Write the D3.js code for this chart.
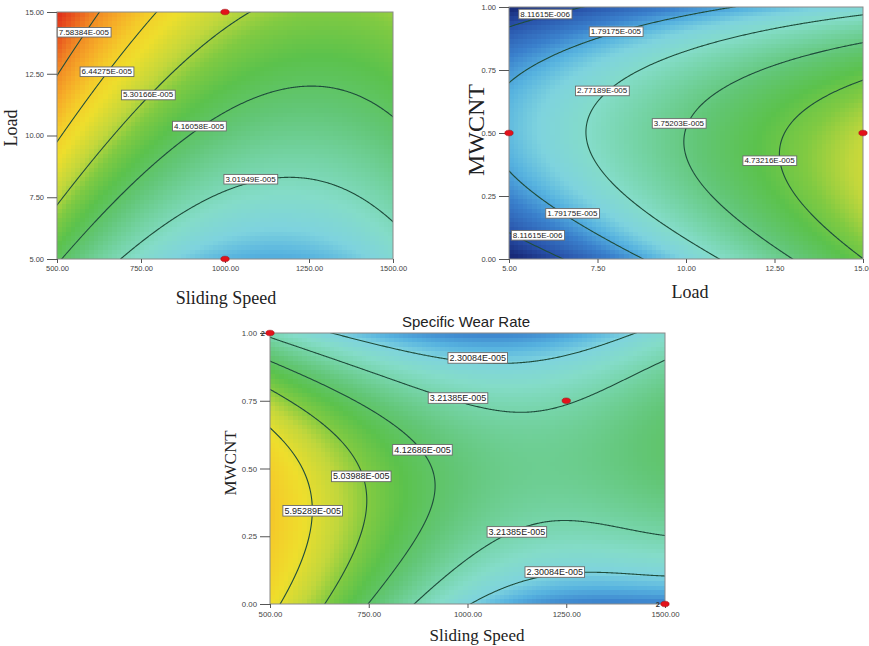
<!DOCTYPE html>
<html>
<head>
<meta charset="utf-8">
<script src="https://cdnjs.cloudflare.com/ajax/libs/d3/7.8.5/d3.min.js"></script>
<style>
  body { margin: 0; background: #fff; }
  svg { display: block; }
</style>
</head>
<body>
<svg id="chart" width="869" height="646"></svg>
<script>
// contour levels, in units of 1E-005
var levelsSpeedLoad = [3.01949, 4.16058, 5.30166, 6.44275, 7.58384];
var levelsLoadMwcnt = [0.811615, 1.79175, 2.77189, 3.75203, 4.73216];
var levelsSpeedMwcnt = [2.30084, 3.21385, 4.12686, 5.03988, 5.95289];

// readings of the response surface off the picture: [x, y, wear rate]
var readSpeedLoad = [
  [693, 5, 3.01949], [826, 6.58, 3.01949], [1076, 8.23, 3.01949], [1247, 8.29, 3.01949], [1500, 6.51, 3.01949],
  [514, 5, 4.16058], [718, 7.68, 4.16058], [923, 10.38, 4.16058], [1247, 11.95, 4.16058], [1500, 10.7, 4.16058],
  [500, 7.26, 5.30166], [771, 11.64, 5.30166], [1079, 15, 5.30166],
  [500, 9.71, 6.44275], [648, 12.58, 6.44275], [801, 15, 6.44275],
  [500, 12.32, 7.58384], [580, 14.18, 7.58384], [628, 15, 7.58384],
  [500, 15, 8.65], [1500, 15, 5.15], [1250, 15, 5.02], [500, 5, 4.25],
  [1000, 5, 1.95], [1150, 5, 1.85], [1500, 5, 2.55], [1250, 10, 3.6]
];
var readLoadMwcnt = [
  [5, 0.91, 0.811615], [6.85, 1, 0.811615], [5, 0.10, 0.811615], [6.91, 0, 0.811615],
  [5, 0.687, 1.79175], [8.02, 0.902, 1.79175], [11.6, 1, 1.79175],
  [5, 0.36, 1.79175], [6.79, 0.181, 1.79175], [8.84, 0, 1.79175],
  [7.03, 0.499, 2.77189], [7.63, 0.667, 2.77189], [9.27, 0.777, 2.77189], [12.1, 0.90, 2.77189],
  [15, 0.964, 2.77189], [9.27, 0.127, 2.77189], [10.82, 0, 2.77189],
  [9.69, 0.49, 3.75203], [11.62, 0.723, 3.75203], [15, 0.849, 3.75203], [11.15, 0.21, 3.75203], [12.9, 0, 3.75203],
  [12.35, 0.45, 4.73216], [13.5, 0.604, 4.73216], [15, 0.704, 4.73216], [13.79, 0.21, 4.73216], [15, 0, 4.73216],
  [15, 0.35, 5.7], [15, 1, 2.6], [5, 0, 0.3], [5, 1, 0.3], [5, 0.52, 2.0], [10, 1, 1.45]
];
var readSpeedMwcnt = [
  [500, 0.649, 5.95289], [545, 0.57, 5.95289], [604, 0.42, 5.95289], [608, 0.34, 5.95289], [598, 0.26, 5.95289],
  [572, 0.15, 5.95289], [528, 0, 5.95289],
  [500, 0.785, 5.03988], [600, 0.72, 5.03988], [686, 0.606, 5.03988], [728, 0.46, 5.03988], [740, 0.36, 5.03988],
  [730, 0.27, 5.03988], [700, 0.15, 5.03988], [675, 0.08, 5.03988], [630, 0, 5.03988],
  [500, 0.895, 4.12686], [846, 0.606, 4.12686], [884, 0.57, 4.12686], [922, 0.42, 4.12686],
  [880, 0.237, 4.12686], [829, 0.163, 4.12686], [770, 0, 4.12686],
  [500, 0.987, 3.21385], [896, 0.785, 3.21385], [1082, 0.717, 3.21385], [1166, 0.706, 3.21385], [1500, 0.90, 3.21385],
  [846, 0, 3.21385], [985, 0.15, 3.21385], [1125, 0.268, 3.21385], [1302, 0.305, 3.21385], [1500, 0.252, 3.21385],
  [648, 1, 2.30084], [947, 0.90, 2.30084], [1100, 0.889, 2.30084], [1428, 1, 2.30084],
  [1010, 0, 2.30084], [1285, 0.12, 2.30084], [1500, 0.104, 2.30084],
  [500, 0.32, 6.75], [1500, 0, 1.45], [1500, 1, 2.6], [1500, 0.55, 4.05], [1000, 1, 1.5], [1250, 0, 1.5]
];

// where the level labels sit: [x, y, level]
var labelsSpeedLoad = [
  [1076, 8.23, 3.01949], [923, 10.38, 4.16058], [771, 11.64, 5.30166], [648, 12.58, 6.44275], [580, 14.18, 7.58384]
];
var labelsLoadMwcnt = [
  [6.02, 0.972, 0.811615], [8.02, 0.902, 1.79175], [7.63, 0.667, 2.77189], [9.80, 0.538, 3.75203],
  [12.36, 0.39, 4.73216], [6.79, 0.181, 1.79175], [5.81, 0.094, 0.811615]
];
var labelsSpeedMwcnt = [
  [1026, 0.908, 2.30084], [976, 0.760, 3.21385], [886, 0.569, 4.12686], [731, 0.471, 5.03988],
  [608, 0.344, 5.95289], [1125, 0.266, 3.21385], [1221, 0.118, 2.30084]
];

// design points [x, y, replicates]
var designSpeedLoad = [[1000, 15, 1], [1000, 5, 1]];
var designLoadMwcnt = [[5, 0.5, 1], [15, 0.5, 1]];
var designSpeedMwcnt = [[500, 1, 2], [1250, 0.75, 1], [1500, 0, 2]];

var speedTicks = [500, 750, 1000, 1250, 1500];
var loadTicks = [5, 7.5, 10, 12.5, 15];
var mwcntTicks = [0, 0.25, 0.5, 0.75, 1];

// colour ramp (value -> colour)
var rampStops = [0.3, 0.8, 1.45, 1.9, 2.3, 2.8, 3.3, 3.9, 4.5, 5.0, 5.5, 6.1, 6.6, 7.1, 7.7, 8.2, 8.6];
var rampColors = ["#182a78", "#2850a8", "#3a80cc", "#56b2df", "#7ed3de", "#84dcc8", "#74d3a4", "#62c676",
                  "#5bc24c", "#80ca42", "#c2d73c", "#eede2c", "#f4cc2a", "#f6ac28", "#f08424", "#e8521e", "#e0301a"];
var color = d3.scaleLinear().domain(rampStops).range(rampColors).interpolate(d3.interpolateRgb).clamp(true);

var svg = d3.select("#chart");
var sans = "Liberation Sans, Arial, sans-serif";
var serif = "Liberation Serif, Times New Roman, serif";

function fmtLevel(v) {
  var e = Math.floor(Math.log10(v * 1e-5) + 1e-9);
  var m = v * 1e-5 / Math.pow(10, e);
  return m.toFixed(5) + "E-" + String(-e).padStart(3, "0");
}

// polynomial least squares surface through the readings
function basis(u, v, deg) {
  var f = [];
  for (var d = 0; d <= deg; d++)
    for (var j = 0; j <= d; j++) f.push(Math.pow(u, d - j) * Math.pow(v, j));
  return f;
}
function fitSurface(pts, xd, yd, deg, edgeWeight) {
  var cu = d3.scaleLinear().domain(xd).range([-1, 1]);
  var cv = d3.scaleLinear().domain(yd).range([-1, 1]);
  var n = basis(0, 0, deg).length, A = [], b = [];
  for (var i = 0; i < n; i++) { A.push(new Array(n).fill(0)); b.push(0); }
  pts.forEach(function(p) {
    var f = basis(cu(p[0]), cv(p[1]), deg);
    // readings on the bottom edge are the sharpest ones
    var w = p[1] === yd[0] ? edgeWeight : 1;
    for (var i = 0; i < n; i++) {
      for (var j = 0; j < n; j++) A[i][j] += w * f[i] * f[j];
      b[i] += w * f[i] * p[2];
    }
  });
  for (var i = 0; i < n; i++) A[i][i] += 1e-3;
  // gaussian elimination
  for (var k = 0; k < n; k++) {
    var piv = k;
    for (var r = k + 1; r < n; r++) if (Math.abs(A[r][k]) > Math.abs(A[piv][k])) piv = r;
    var t = A[k]; A[k] = A[piv]; A[piv] = t;
    var tb = b[k]; b[k] = b[piv]; b[piv] = tb;
    for (var r = k + 1; r < n; r++) {
      var m = A[r][k] / A[k][k];
      for (var c = k; c < n; c++) A[r][c] -= m * A[k][c];
      b[r] -= m * b[k];
    }
  }
  var coef = new Array(n).fill(0);
  for (var k = n - 1; k >= 0; k--) {
    var s = b[k];
    for (var c = k + 1; c < n; c++) s -= A[k][c] * coef[c];
    coef[k] = s / A[k][k];
  }
  return function(x, y) {
    var f = basis(cu(x), cv(y), deg), s = 0;
    for (var i = 0; i < n; i++) s += f[i] * coef[i];
    return s;
  };
}

function drawPanel(cfg, id) {
  var left = cfg.box[0], top = cfg.box[1], right = cfg.box[2], bottom = cfg.box[3];
  var x = d3.scaleLinear().domain(cfg.xDomain).range([left, right]);
  var y = d3.scaleLinear().domain(cfg.yDomain).range([bottom, top]);
  var surf = fitSurface(cfg.readings, cfg.xDomain, cfg.yDomain, cfg.degree, cfg.edgeWeight);
  var g = svg.append("g");

  // blocky heat map
  var nx = Math.round((right - left) / 4.6), ny = Math.round((bottom - top) / 4.6);
  var canvas = document.createElement("canvas");
  canvas.width = nx; canvas.height = ny;
  var ctx = canvas.getContext("2d");
  var img = ctx.createImageData(nx, ny);
  for (var j = 0; j < ny; j++) {
    for (var i = 0; i < nx; i++) {
      var px = left + (i + 0.5) * (right - left) / nx;
      var py = top + (j + 0.5) * (bottom - top) / ny;
      var c = d3.rgb(color(surf(x.invert(px), y.invert(py))));
      var k = (j * nx + i) * 4;
      img.data[k] = c.r; img.data[k + 1] = c.g; img.data[k + 2] = c.b; img.data[k + 3] = 255;
    }
  }
  ctx.putImageData(img, 0, 0);
  g.append("image")
    .attr("href", canvas.toDataURL())
    .attr("x", left).attr("y", top)
    .attr("width", right - left).attr("height", bottom - top)
    .attr("preserveAspectRatio", "none")
    .style("image-rendering", "pixelated");

  // contour lines on a finer, padded grid so the border edges fall outside the clip
  var pad = 3, N = Math.round(right - left), M = Math.round(bottom - top);
  var csx = (right - left) / N, csy = (bottom - top) / M;
  var gw = N + 2 * pad, gh = M + 2 * pad;
  var values = new Float64Array(gw * gh);
  for (var j = 0; j < gh; j++) {
    for (var i = 0; i < gw; i++) {
      var px = left + (i - pad + 0.5) * csx;
      var py = top + (j - pad + 0.5) * csy;
      values[j * gw + i] = surf(x.invert(px), y.invert(py));
    }
  }
  var contours = d3.contours().size([gw, gh]).thresholds(cfg.levels)(values);
  var proj = d3.geoTransform({
    point: function(px, py) { this.stream.point(left + (px - pad) * csx, top + (py - pad) * csy); }
  });
  svg.append("clipPath").attr("id", "clip" + id)
    .append("rect").attr("x", left).attr("y", top).attr("width", right - left).attr("height", bottom - top);
  g.append("g").attr("clip-path", "url(#clip" + id + ")")
    .selectAll("path").data(contours).enter().append("path")
    .attr("d", d3.geoPath(proj))
    .attr("fill", "none")
    .attr("stroke", "#1f4d3c")
    .attr("stroke-width", 1.1);

  // frame
  g.append("rect").attr("x", left).attr("y", top).attr("width", right - left).attr("height", bottom - top)
    .attr("fill", "none").attr("stroke", "#8a8a8a").attr("stroke-width", 1);

  // level labels
  cfg.labels.forEach(function(l) {
    var lg = g.append("g");
    var t = lg.append("text")
      .attr("x", x(l[0])).attr("y", y(l[1]))
      .attr("text-anchor", "middle").attr("dominant-baseline", "central")
      .attr("font-family", sans).attr("font-size", cfg.labelSize).attr("fill", "#222")
      .text(fmtLevel(l[2]));
    var bb = t.node().getBBox();
    lg.insert("rect", "text")
      .attr("x", bb.x - 1.5).attr("y", bb.y - 0.3).attr("width", bb.width + 3).attr("height", bb.height + 0.6)
      .attr("fill", "#fff").attr("stroke", "#6a6a6a").attr("stroke-width", 0.9);
  });

  // axes
  var ax = g.append("g").attr("transform", "translate(0," + bottom + ")")
    .call(d3.axisBottom(x).tickValues(cfg.xTicks).tickFormat(d3.format(".2f")).tickSize(4).tickPadding(3));
  var ay = g.append("g").attr("transform", "translate(" + left + ",0)")
    .call(d3.axisLeft(y).tickValues(cfg.yTicks).tickFormat(d3.format(".2f")).tickSize(10).tickPadding(3));
  [ax, ay].forEach(function(a) {
    a.select(".domain").remove();
    a.attr("font-family", sans).attr("font-size", cfg.tickSize);
    a.selectAll("line").attr("stroke", "#555");
    a.selectAll("text").attr("fill", "#444");
  });

  // design points
  cfg.design.forEach(function(d) {
    g.append("ellipse").attr("cx", x(d[0])).attr("cy", y(d[1])).attr("rx", 4.2).attr("ry", 2.8)
      .attr("fill", "#e3121b").attr("stroke", "#9a0a10").attr("stroke-width", 0.5);
    if (d[2] > 1) {
      g.append("text").attr("x", x(d[0]) - 5).attr("y", y(d[1]) + 2.5)
        .attr("text-anchor", "end").attr("font-family", sans).attr("font-size", 7.5)
        .attr("font-weight", "bold").attr("fill", "#333").text(d[2]);
    }
  });

  // titles
  g.append("text").attr("x", cfg.xTitle[1]).attr("y", cfg.xTitle[2])
    .attr("text-anchor", "middle").attr("font-family", serif).attr("font-size", cfg.xTitle[3])
    .attr("fill", "#222").text(cfg.xTitle[0]);
  g.append("text").attr("transform", "translate(" + cfg.yTitle[1] + "," + cfg.yTitle[2] + ") rotate(-90)")
    .attr("text-anchor", "middle").attr("font-family", serif).attr("font-size", cfg.yTitle[3])
    .attr("fill", "#222").text(cfg.yTitle[0]);
}

drawPanel({
  box: [57, 12, 393, 259], xDomain: [500, 1500], yDomain: [5, 15], degree: 3, edgeWeight: 1,
  readings: readSpeedLoad, levels: levelsSpeedLoad, labels: labelsSpeedLoad, design: designSpeedLoad,
  xTicks: speedTicks, yTicks: loadTicks, labelSize: 8, tickSize: 7.5,
  xTitle: ["Sliding Speed", 226, 304, 18], yTitle: ["Load", 17, 128, 18]
}, 1);

drawPanel({
  box: [509, 7, 863, 259], xDomain: [5, 15], yDomain: [0, 1], degree: 3, edgeWeight: 1,
  readings: readLoadMwcnt, levels: levelsLoadMwcnt, labels: labelsLoadMwcnt, design: designLoadMwcnt,
  xTicks: loadTicks, yTicks: mwcntTicks, labelSize: 8, tickSize: 7.5,
  xTitle: ["Load", 690, 298, 18], yTitle: ["MWCNT", 484, 130, 24]
}, 2);

drawPanel({
  box: [270, 333, 665, 604], xDomain: [500, 1500], yDomain: [0, 1], degree: 5, edgeWeight: 4,
  readings: readSpeedMwcnt, levels: levelsSpeedMwcnt, labels: labelsSpeedMwcnt, design: designSpeedMwcnt,
  xTicks: speedTicks, yTicks: mwcntTicks, labelSize: 9, tickSize: 7.8,
  xTitle: ["Sliding Speed", 477, 641, 17], yTitle: ["MWCNT", 236, 463, 17]
}, 3);

svg.append("text").attr("x", 466).attr("y", 327).attr("text-anchor", "middle")
  .attr("font-family", sans).attr("font-size", 15).attr("fill", "#222").text("Specific Wear Rate");
</script>
</body>
</html>
